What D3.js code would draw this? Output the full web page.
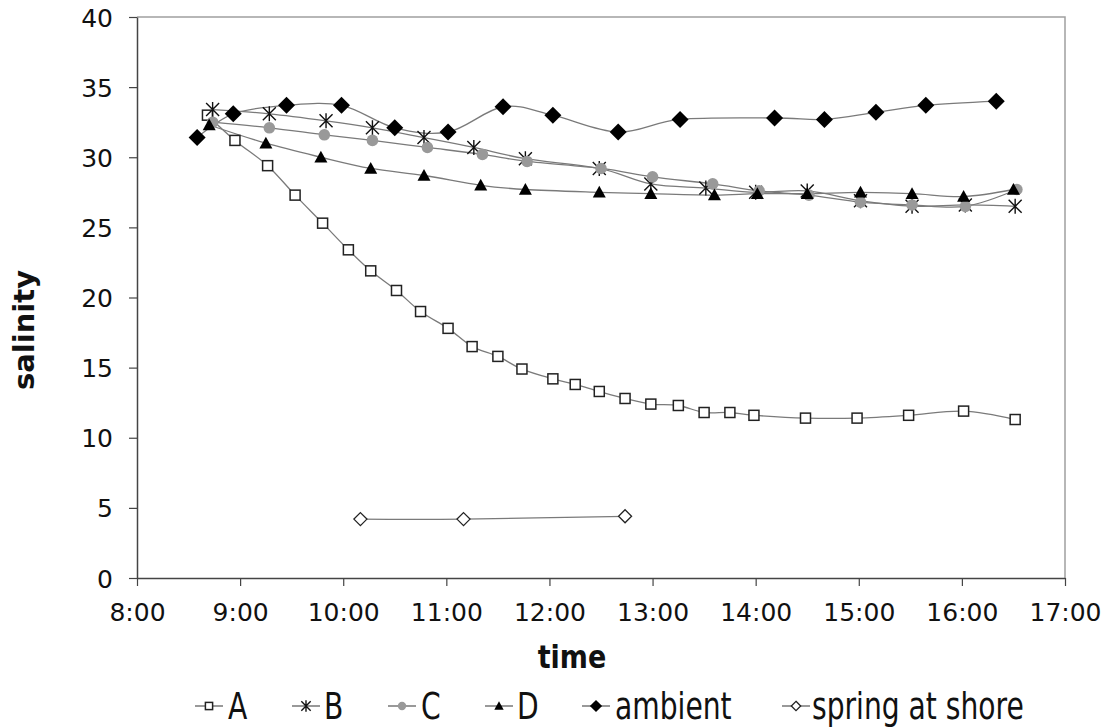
<!DOCTYPE html>
<html>
<head>
<meta charset="utf-8">
<script src="https://cdn.jsdelivr.net/npm/d3@7/dist/d3.min.js"></script>
<style>
  html, body { margin: 0; padding: 0; background: #fff; }
  svg { display: block; }
</style>
</head>
<body>
<svg id="chart" width="1110" height="727"></svg>
<script>
// Salinity readings through the day at each station (time of day, salinity)
const timesA = ["8:41","8:57","9:16","9:32","9:48","10:03","10:16","10:31","10:45","11:01","11:15","11:30","11:44","12:02","12:15","12:29","12:44","12:59","13:15","13:30","13:45","13:59","14:29","14:59","15:29","16:01","16:31"];
const valuesA = [33.0,31.2,29.4,27.3,25.3,23.4,21.9,20.5,19.0,17.8,16.5,15.8,14.9,14.2,13.8,13.3,12.8,12.4,12.3,11.8,11.8,11.6,11.4,11.4,11.6,11.9,11.3];

const timesB = ["8:44","9:17","9:50","10:17","10:47","11:16","11:46","12:29","12:59","13:31","14:00","14:30","15:01","15:31","16:02","16:31"];
const valuesB = [33.4,33.1,32.6,32.1,31.4,30.7,29.9,29.2,28.1,27.8,27.5,27.6,26.9,26.5,26.6,26.5];

const timesC = ["8:44","9:17","9:49","10:17","10:49","11:21","11:47","12:30","13:00","13:35","14:02","14:31","15:01","15:31","16:02","16:32"];
const valuesC = [32.5,32.1,31.6,31.2,30.7,30.2,29.7,29.2,28.6,28.1,27.6,27.3,26.8,26.6,26.5,27.7];

const timesD = ["8:42","9:15","9:47","10:16","10:47","11:20","11:46","12:29","12:59","13:36","14:01","14:30","15:01","15:31","16:01","16:30"];
const valuesD = [32.3,31.0,30.0,29.2,28.7,28.0,27.7,27.5,27.4,27.3,27.4,27.4,27.5,27.4,27.2,27.7];

const timesAmbient = ["8:35","8:56","9:27","9:59","10:30","11:01","11:33","12:02","12:40","13:16","14:11","14:40","15:10","15:39","16:20"];
const valuesAmbient = [31.4,33.1,33.7,33.7,32.1,31.8,33.6,33.0,31.8,32.7,32.8,32.7,33.2,33.7,34.0];

const timesSpring = ["10:10","11:10","12:44"];
const valuesSpring = [4.2,4.2,4.4];

const seriesNames = ["A","B","C","D","ambient","spring at shore"];
const xTicks = ["8:00","9:00","10:00","11:00","12:00","13:00","14:00","15:00","16:00","17:00"];
const yTicks = [0,5,10,15,20,25,30,35,40];

// "H:MM" -> decimal hours
const toHours = s => { const [h, m] = s.split(":").map(Number); return h + m / 60; };

const series = [
  { name: seriesNames[0], times: timesA, values: valuesA, marker: "square" },
  { name: seriesNames[1], times: timesB, values: valuesB, marker: "star" },
  { name: seriesNames[2], times: timesC, values: valuesC, marker: "circle" },
  { name: seriesNames[3], times: timesD, values: valuesD, marker: "triangle" },
  { name: seriesNames[4], times: timesAmbient, values: valuesAmbient, marker: "diamond" },
  { name: seriesNames[5], times: timesSpring, values: valuesSpring, marker: "openDiamond" }
].map(s => ({ ...s, points: s.times.map((t, i) => ({ x: toHours(t), y: s.values[i] })) }));

const svg = d3.select("#chart");
const plotLeft = 137, plotRight = 1065, plotTop = 17, plotBottom = 578;

const x = d3.scaleLinear().domain([toHours(xTicks[0]), toHours(xTicks[xTicks.length - 1])]).range([plotLeft, plotRight]);
const y = d3.scaleLinear().domain([0, 40]).range([plotBottom, plotTop]);

const tickFont = "'DejaVu Sans', Verdana, sans-serif";

// plot frame (top and right edges are light grey)
svg.append("path")
  .attr("d", `M${plotLeft},${plotTop}H${plotRight}V${plotBottom}`)
  .attr("fill", "none").attr("stroke", "#a0a0a0").attr("stroke-width", 1.5);

// y axis
const yAxis = svg.append("g").attr("transform", `translate(${plotLeft},0)`)
  .call(d3.axisLeft(y).tickValues(yTicks).tickSize(8).tickPadding(16).tickSizeOuter(0));
yAxis.select(".domain").attr("stroke", "#444").attr("stroke-width", 1.5);
yAxis.selectAll(".tick line").attr("stroke", "#444").attr("stroke-width", 1.2);
yAxis.selectAll(".tick text").attr("font-family", tickFont).attr("font-size", 25).attr("fill", "#111").attr("dy", "0.36em");

// x axis
const xAxis = svg.append("g").attr("transform", `translate(0,${plotBottom})`)
  .call(d3.axisBottom(x).tickValues(xTicks.map(toHours)).tickSize(8).tickSizeOuter(0)
    .tickFormat((d, i) => xTicks[i]));
xAxis.select(".domain").attr("stroke", "#444").attr("stroke-width", 1.5);
xAxis.selectAll(".tick line").attr("stroke", "#444").attr("stroke-width", 1.2);
xAxis.selectAll(".tick text").attr("font-family", tickFont).attr("font-size", 25).attr("fill", "#111")
  .attr("y", 43).attr("dy", 0);

// axis titles
svg.append("text").attr("transform", "translate(572,668) scale(1,1.15)").attr("text-anchor", "middle")
  .attr("font-family", tickFont).attr("font-weight", "bold").attr("font-size", 27).attr("fill", "#111")
  .text("time");
svg.append("text").attr("transform", "translate(34,330) rotate(-90)").attr("text-anchor", "middle")
  .attr("font-family", tickFont).attr("font-weight", "bold").attr("font-size", 29).attr("fill", "#111")
  .text("salinity");

// smoothed connecting lines
const line = d3.line().x(d => x(d.x)).y(d => y(d.y)).curve(d3.curveCatmullRom.alpha(0));
svg.append("g").selectAll("path").data(series).join("path")
  .attr("d", d => line(d.points))
  .attr("fill", "none").attr("stroke", "#7a7a7a").attr("stroke-width", 1.3);

// marker drawing
function drawMarker(g, type, scale) {
  const k = scale || 1;
  if (type === "square") {
    const s = 10 * k;
    g.append("rect").attr("x", -s / 2).attr("y", -s / 2).attr("width", s).attr("height", s)
      .attr("fill", "#fff").attr("stroke", "#222").attr("stroke-width", 1.5);
  } else if (type === "star") {
    const r = 6.5 * k;
    const p = `M0,${-r - 1}V${r + 1}M${-r},${-r}L${r},${r}M${-r},${r}L${r},${-r}`;
    g.append("path").attr("d", p).attr("stroke", "#111").attr("stroke-width", 1.4).attr("fill", "none");
  } else if (type === "circle") {
    g.append("circle").attr("r", 5.8 * k).attr("fill", "#999").attr("stroke", "none");
  } else if (type === "triangle") {
    const s = 6.5 * k;
    g.append("path").attr("d", `M0,${-s}L${s},${s * 0.8}L${-s},${s * 0.8}Z`).attr("fill", "#000");
  } else if (type === "diamond") {
    const s = 8.5 * k;
    g.append("path").attr("d", `M0,${-s}L${s},0L0,${s}L${-s},0Z`).attr("fill", "#000");
  } else if (type === "openDiamond") {
    const s = 6.5 * k;
    g.append("path").attr("d", `M0,${-s}L${s},0L0,${s}L${-s},0Z`)
      .attr("fill", "#fff").attr("stroke", "#222").attr("stroke-width", 1.3);
  }
}

series.forEach(s => {
  const g = svg.append("g");
  s.points.forEach(p => {
    const m = g.append("g").attr("transform", `translate(${x(p.x)},${y(p.y)})`);
    drawMarker(m, s.marker, 1);
  });
});

// legend
const legendItems = [
  { xLine: 209, xText: 228 },
  { xLine: 306, xText: 324 },
  { xLine: 402, xText: 421 },
  { xLine: 499, xText: 517 },
  { xLine: 596, xText: 615 },
  { xLine: 796, xText: 812 }
];
const legendY = 706;
series.forEach((s, i) => {
  const li = legendItems[i];
  const g = svg.append("g");
  g.append("line").attr("x1", li.xLine - 14).attr("x2", li.xLine + 14)
    .attr("y1", legendY).attr("y2", legendY).attr("stroke", "#555").attr("stroke-width", 1.2);
  const m = g.append("g").attr("transform", `translate(${li.xLine},${legendY})`);
  drawMarker(m, s.marker, 0.72);
  g.append("text").attr("transform", `translate(${li.xText},${legendY + 13}) scale(1.01,1.18)`)
    .attr("font-family", "'DejaVu Sans Condensed', 'DejaVu Sans', sans-serif")
    .attr("font-stretch", "condensed")
    .attr("font-size", 31).attr("fill", "#111").text(s.name);
});
</script>
</body>
</html>
